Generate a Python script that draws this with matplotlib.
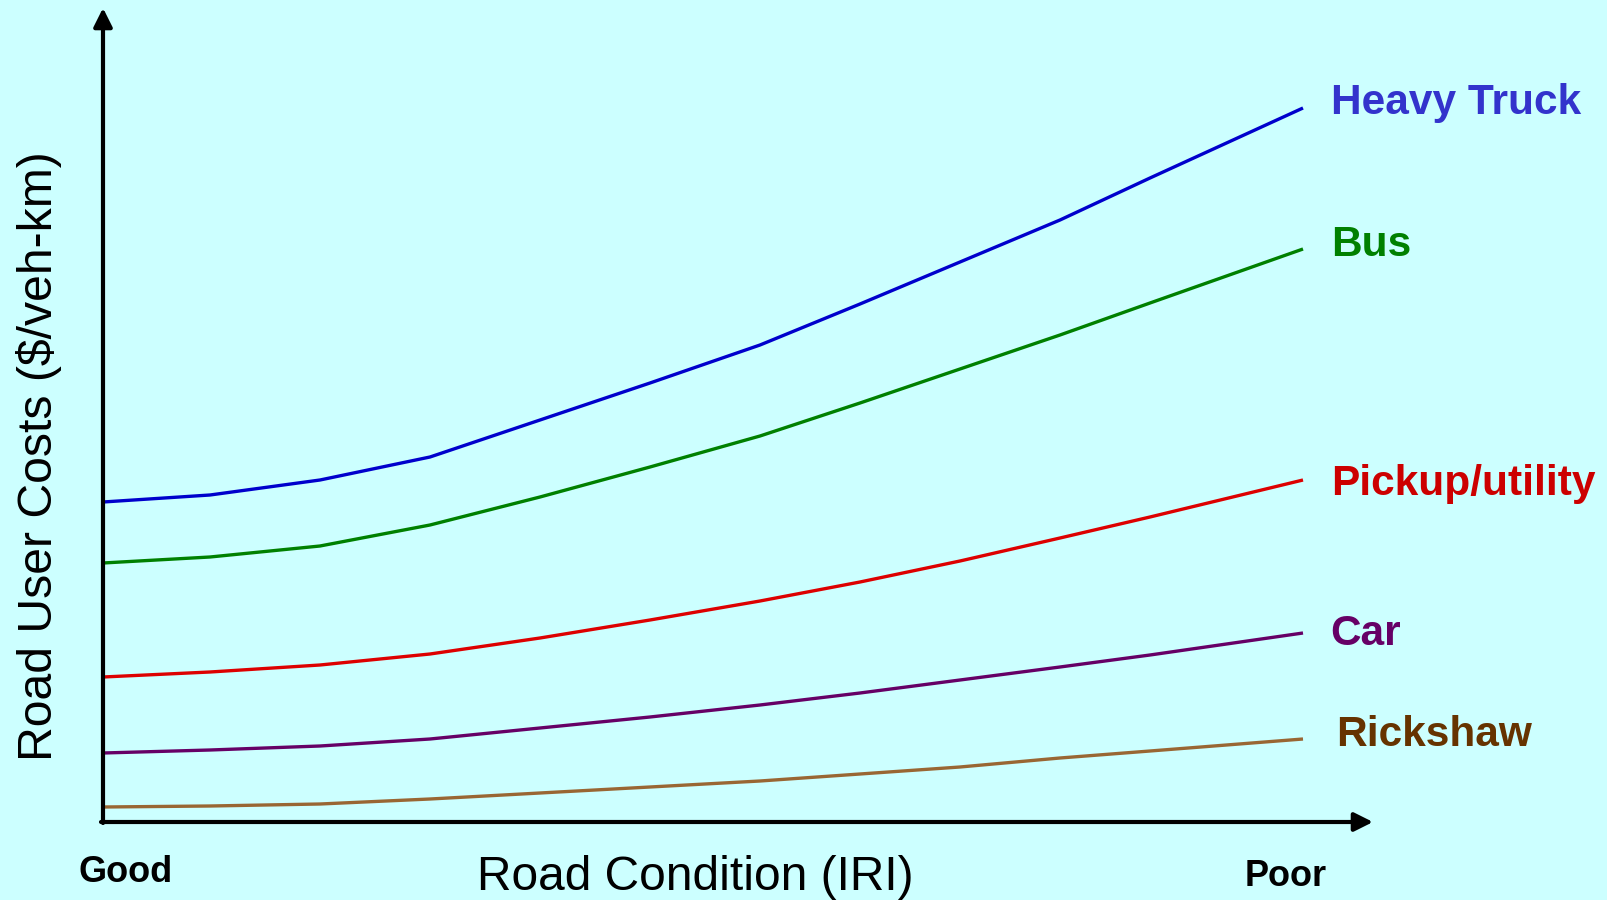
import numpy as np
import matplotlib.pyplot as plt

plt.rcParams['font.family'] = ['Liberation Sans', 'DejaVu Sans']

# road condition (arbitrary IRI scale, 0 = good) and user cost (arbitrary units)
iri = [0.0, 1.07, 2.17, 3.27, 4.37, 5.47, 6.57, 7.57, 8.57, 9.57, 10.47, 12.0]
heavy_truck = [3.20, 3.27, 3.42, 3.65, 4.02, 4.39, 4.77, 5.18, 5.60, 6.02, 6.44, 7.14]
bus = [2.59, 2.65, 2.76, 2.97, 3.25, 3.55, 3.86, 4.19, 4.53, 4.87, 5.19, 5.73]
pickup = [1.45, 1.50, 1.57, 1.68, 1.84, 2.02, 2.21, 2.40, 2.61, 2.84, 3.05, 3.42]
car = [0.69, 0.72, 0.76, 0.83, 0.94, 1.05, 1.17, 1.29, 1.42, 1.55, 1.67, 1.89]
rickshaw = [0.15, 0.16, 0.18, 0.23, 0.29, 0.35, 0.41, 0.48, 0.55, 0.64, 0.71, 0.83]

names = ['Heavy Truck', 'Bus', 'Pickup/utility', 'Car', 'Rickshaw']
series = [heavy_truck, bus, pickup, car, rickshaw]
line_colors = ['#0000CC', '#008000', '#DD0000', '#660066', '#996633']
text_colors = ['#3333CC', '#008000', '#CC0000', '#660066', '#663300']
label_dy = [0.05, 0.04, -0.04, -0.01, 0.035]
label_dx = [0.28, 0.28, 0.28, 0.27, 0.33]

bg = '#CCFFFF'
fig = plt.figure(figsize=(16.07, 9), dpi=100, facecolor=bg)
ax = fig.add_axes([103 / 1607, 78 / 900, 1504 / 1607, 822 / 900])
ax.set_facecolor(bg)
ax.set_xlim(0, 15.04)
ax.set_ylim(0, 8.22)
ax.axis('off')

for name, ys, lc, tc, dy, dx in zip(names, series, line_colors, text_colors, label_dy, label_dx):
    ax.plot(iri, ys, color=lc, lw=2.4, solid_capstyle='butt',
            solid_joinstyle='round', clip_on=False)
    ax.text(iri[-1] + dx, ys[-1] + dy, name, color=tc, fontsize=30.5,
            fontweight='bold', ha='left', va='center')

# axes drawn as arrows
arrow = dict(arrowstyle='-|>', lw=3, color='black', mutation_scale=28,
             shrinkA=0, shrinkB=0)
ax.annotate('', xy=(0, 8.14), xytext=(0, -0.01), arrowprops=arrow,
            annotation_clip=False)
ax.annotate('', xy=(12.7, 0), xytext=(-0.02, 0), arrowprops=arrow,
            annotation_clip=False)

fig.text(39 / 1607, 1 - 456 / 900, 'Road User Costs ($/veh-km)', rotation=90,
         fontsize=34.7, ha='center', va='center')
fig.text(695 / 1607, 1 - 877 / 900, 'Road Condition (IRI)', fontsize=34.5,
         ha='center', va='center')
fig.text(78 / 1607, 1 - 872 / 900, 'Good', fontsize=26, fontweight='bold',
         ha='left', va='center')
fig.text(1245 / 1607, 1 - 876 / 900, 'Poor', fontsize=26, fontweight='bold',
         ha='left', va='center')

fig.savefig('out.png', dpi=100, facecolor=bg)
